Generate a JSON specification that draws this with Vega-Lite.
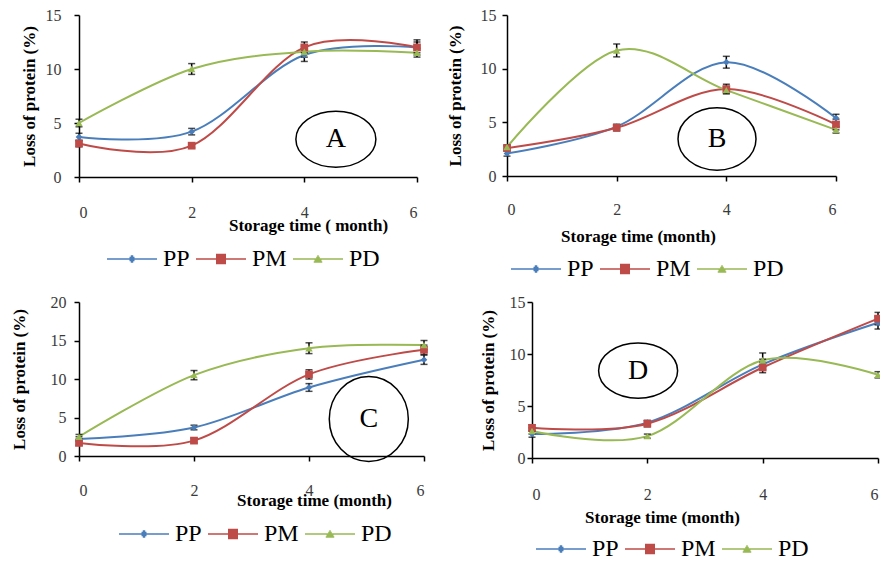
{
  "$schema": "https://vega.github.io/schema/vega-lite/v6.json",
  "padding": {"left": 10, "top": 7, "right": 0, "bottom": 0},
  "background": "white",
  "config": {
    "view": {"stroke": null},
    "axis": {
      "grid": false,
      "domainColor": "black",
      "tickColor": "black",
      "domainWidth": 1.5,
      "tickWidth": 1.5,
      "tickSize": 5,
      "labelFont": "Liberation Serif",
      "labelFontSize": 16,
      "labelColor": "#3a3a3a",
      "titleFont": "Liberation Serif",
      "titleFontSize": 17,
      "titleFontWeight": "bold",
      "titleColor": "black"
    },
    "legend": {
      "orient": "none",
      "direction": "horizontal",
      "title": null,
      "padding": 0,
      "labelFont": "Liberation Serif",
      "labelFontSize": 24,
      "labelColor": "black",
      "labelOffset": 5,
      "columnPadding": 3,
      "symbolSize": 2500,
      "symbolStrokeWidth": 1.5
    }
  },
  "datasets": {
    "pts": [
      {"panel": "A", "series": "PP", "month": 0, "value": 3.7, "err": 0.35},
      {"panel": "A", "series": "PP", "month": 2, "value": 4.2, "err": 0.3},
      {"panel": "A", "series": "PP", "month": 4, "value": 11.3, "err": 0.6},
      {"panel": "A", "series": "PP", "month": 6, "value": 12.0, "err": 0.5},
      {"panel": "A", "series": "PM", "month": 0, "value": 3.1, "err": 0.3},
      {"panel": "A", "series": "PM", "month": 2, "value": 2.9, "err": 0.2},
      {"panel": "A", "series": "PM", "month": 4, "value": 12.0, "err": 0.5},
      {"panel": "A", "series": "PM", "month": 6, "value": 12.0, "err": 0.7},
      {"panel": "A", "series": "PD", "month": 0, "value": 5.0, "err": 0.35},
      {"panel": "A", "series": "PD", "month": 2, "value": 10.0, "err": 0.5},
      {"panel": "A", "series": "PD", "month": 4, "value": 11.6, "err": 0.5},
      {"panel": "A", "series": "PD", "month": 6, "value": 11.5, "err": 0.4},
      {"panel": "B", "series": "PP", "month": 0, "value": 2.1, "err": 0.25},
      {"panel": "B", "series": "PP", "month": 2, "value": 4.6, "err": 0.2},
      {"panel": "B", "series": "PP", "month": 4, "value": 10.6, "err": 0.55},
      {"panel": "B", "series": "PP", "month": 6, "value": 5.4, "err": 0.35},
      {"panel": "B", "series": "PM", "month": 0, "value": 2.6, "err": 0.2},
      {"panel": "B", "series": "PM", "month": 2, "value": 4.5, "err": 0.3},
      {"panel": "B", "series": "PM", "month": 4, "value": 8.1, "err": 0.45},
      {"panel": "B", "series": "PM", "month": 6, "value": 4.8, "err": 0.5},
      {"panel": "B", "series": "PD", "month": 0, "value": 2.7, "err": 0.2},
      {"panel": "B", "series": "PD", "month": 2, "value": 11.7, "err": 0.6},
      {"panel": "B", "series": "PD", "month": 4, "value": 8.0, "err": 0.3},
      {"panel": "B", "series": "PD", "month": 6, "value": 4.3, "err": 0.3},
      {"panel": "C", "series": "PP", "month": 0, "value": 2.2, "err": 0.3},
      {"panel": "C", "series": "PP", "month": 2, "value": 3.7, "err": 0.3},
      {"panel": "C", "series": "PP", "month": 4, "value": 8.9, "err": 0.5},
      {"panel": "C", "series": "PP", "month": 6, "value": 12.5, "err": 0.6},
      {"panel": "C", "series": "PM", "month": 0, "value": 1.7, "err": 0.3},
      {"panel": "C", "series": "PM", "month": 2, "value": 2.0, "err": 0.3},
      {"panel": "C", "series": "PM", "month": 4, "value": 10.6, "err": 0.6},
      {"panel": "C", "series": "PM", "month": 6, "value": 13.8, "err": 0.6},
      {"panel": "C", "series": "PD", "month": 0, "value": 2.5, "err": 0.3},
      {"panel": "C", "series": "PD", "month": 2, "value": 10.5, "err": 0.6},
      {"panel": "C", "series": "PD", "month": 4, "value": 14.0, "err": 0.7},
      {"panel": "C", "series": "PD", "month": 6, "value": 14.4, "err": 0.6},
      {"panel": "D", "series": "PP", "month": 0, "value": 2.3, "err": 0.3},
      {"panel": "D", "series": "PP", "month": 2, "value": 3.4, "err": 0.2},
      {"panel": "D", "series": "PP", "month": 4, "value": 9.0, "err": 0.5},
      {"panel": "D", "series": "PP", "month": 6, "value": 13.0, "err": 0.6},
      {"panel": "D", "series": "PM", "month": 0, "value": 2.9, "err": 0.3},
      {"panel": "D", "series": "PM", "month": 2, "value": 3.3, "err": 0.3},
      {"panel": "D", "series": "PM", "month": 4, "value": 8.7, "err": 0.5},
      {"panel": "D", "series": "PM", "month": 6, "value": 13.4, "err": 0.6},
      {"panel": "D", "series": "PD", "month": 0, "value": 2.6, "err": 0.3},
      {"panel": "D", "series": "PD", "month": 2, "value": 2.1, "err": 0.2},
      {"panel": "D", "series": "PD", "month": 4, "value": 9.4, "err": 0.7},
      {"panel": "D", "series": "PD", "month": 6, "value": 8.0, "err": 0.3}
    ],
    "circ": [
      {"panel": "A", "month": 4.56, "value": 3.5, "label": "A"},
      {"panel": "B", "month": 3.83, "value": 3.45, "label": "B"},
      {"panel": "C", "month": 5.04, "value": 4.8, "label": "C"},
      {"panel": "D", "month": 1.84, "value": 8.4, "label": "D"}
    ]
  },
  "resolve": {"scale": {"color": "independent"}, "legend": {"color": "independent"}},
  "spacing": 13,
  "vconcat": [
    {
      "spacing": 24,
      "resolve": {"scale": {"color": "independent"}, "legend": {"color": "independent"}},
      "hconcat": [
        {
          "width": 338, "height": 162,
          "data": {"name": "pts"},
          "transform": [{"filter": "datum.panel === 'A'"}],
          "encoding": {
            "x": {"field": "month", "type": "quantitative", "scale": {"domain": [0, 6]}, "axis": {"values": [0, 2, 4, 6], "title": "Storage time ( month)", "labelPadding": 22, "titleX": 229, "titleY": 40}},
            "y": {"field": "value", "type": "quantitative", "scale": {"domain": [0, 15]}, "axis": {"values": [0, 5, 10, 15], "title": "Loss of protein (%)", "labelPadding": 13, "titlePadding": 7}}
          },
          "layer": [
            {"mark": {"type": "line", "interpolate": "cardinal", "strokeWidth": 2},
             "encoding": {"color": {"field": "series", "type": "nominal", "scale": {"domain": ["PP", "PM", "PD"], "range": ["#4A7EBB", "#BE4B48", "#98B954"]},
               "legend": {"legendX": 27, "legendY": 218, "symbolType": {"expr": "datum.value === 'PP' ? 'M-1,0H1M-0.1,-0.06H0.1M-0.1,0.06H0.1M-0.05,-0.12H0.05M-0.05,0.12H0.05' : datum.value === 'PM' ? 'M-1,0H1M-0.2,-0.18H0.2M-0.2,-0.12H0.2M-0.2,-0.06H0.2M-0.2,0.06H0.2M-0.2,0.12H0.2M-0.2,0.18H0.2' : 'M-1,0H1M-0.03,-0.12H0.03M-0.07,-0.06H0.07M-0.14,0.06H0.14M-0.17,0.12H0.17'"}}}}},
            {"mark": {"type": "errorbar", "color": "black", "ticks": {"size": 7, "thickness": 1.5, "color": "black"}, "rule": {"strokeWidth": 1.5, "color": "black"}},
             "encoding": {"yError": {"field": "err"}}},
            {"transform": [{"filter": "datum.series === 'PP'"}], "mark": {"type": "point", "shape": "diamond", "filled": true, "size": 45, "color": "#4A7EBB", "opacity": 1}},
            {"transform": [{"filter": "datum.series === 'PM'"}], "mark": {"type": "point", "shape": "square", "filled": true, "size": 60, "color": "#BE4B48", "opacity": 1}},
            {"transform": [{"filter": "datum.series === 'PD'"}], "mark": {"type": "point", "shape": "triangle-up", "filled": true, "size": 55, "color": "#98B954", "opacity": 1}},
            {"data": {"name": "circ"}, "transform": [{"filter": "datum.panel === 'A'"}],
             "mark": {"type": "point", "shape": "M-1,0A1,0.7,0,1,0,1,0A1,0.7,0,1,0,-1,0Z", "size": 6400, "filled": false, "stroke": "black", "strokeWidth": 1.5, "opacity": 1}},
            {"data": {"name": "circ"}, "transform": [{"filter": "datum.panel === 'A'"}],
             "mark": {"type": "text", "font": "Liberation Serif", "fontSize": 28, "baseline": "middle", "align": "center", "color": "black"},
             "encoding": {"text": {"field": "label"}}}
          ]
        },
        {
          "width": 329, "height": 161,
          "data": {"name": "pts"},
          "transform": [{"filter": "datum.panel === 'B'"}],
          "encoding": {
            "x": {"field": "month", "type": "quantitative", "scale": {"domain": [0, 6]}, "axis": {"values": [0, 2, 4, 6], "title": "Storage time (month)", "labelPadding": 20, "titleX": 131, "titleY": 52}},
            "y": {"field": "value", "type": "quantitative", "scale": {"domain": [0, 15]}, "axis": {"values": [0, 5, 10, 15], "title": "Loss of protein (%)", "labelPadding": 6, "titlePadding": 16}}
          },
          "layer": [
            {"mark": {"type": "line", "interpolate": "cardinal", "strokeWidth": 2},
             "encoding": {"color": {"field": "series", "type": "nominal", "scale": {"domain": ["PP", "PM", "PD"], "range": ["#4A7EBB", "#BE4B48", "#98B954"]},
               "legend": {"legendX": 3, "legendY": 228, "symbolType": {"expr": "datum.value === 'PP' ? 'M-1,0H1M-0.1,-0.06H0.1M-0.1,0.06H0.1M-0.05,-0.12H0.05M-0.05,0.12H0.05' : datum.value === 'PM' ? 'M-1,0H1M-0.2,-0.18H0.2M-0.2,-0.12H0.2M-0.2,-0.06H0.2M-0.2,0.06H0.2M-0.2,0.12H0.2M-0.2,0.18H0.2' : 'M-1,0H1M-0.03,-0.12H0.03M-0.07,-0.06H0.07M-0.14,0.06H0.14M-0.17,0.12H0.17'"}}}}},
            {"mark": {"type": "errorbar", "color": "black", "ticks": {"size": 7, "thickness": 1.5, "color": "black"}, "rule": {"strokeWidth": 1.5, "color": "black"}},
             "encoding": {"yError": {"field": "err"}}},
            {"transform": [{"filter": "datum.series === 'PP'"}], "mark": {"type": "point", "shape": "diamond", "filled": true, "size": 45, "color": "#4A7EBB", "opacity": 1}},
            {"transform": [{"filter": "datum.series === 'PM'"}], "mark": {"type": "point", "shape": "square", "filled": true, "size": 60, "color": "#BE4B48", "opacity": 1}},
            {"transform": [{"filter": "datum.series === 'PD'"}], "mark": {"type": "point", "shape": "triangle-up", "filled": true, "size": 55, "color": "#98B954", "opacity": 1}},
            {"data": {"name": "circ"}, "transform": [{"filter": "datum.panel === 'B'"}],
             "mark": {"type": "point", "shape": "M-1,0A1,0.8,0,1,0,1,0A1,0.8,0,1,0,-1,0Z", "size": 6084, "filled": false, "stroke": "black", "strokeWidth": 1.5, "opacity": 1}},
            {"data": {"name": "circ"}, "transform": [{"filter": "datum.panel === 'B'"}],
             "mark": {"type": "text", "font": "Liberation Serif", "fontSize": 28, "baseline": "middle", "align": "center", "color": "black"},
             "encoding": {"text": {"field": "label"}}}
          ]
        }
      ]
    },
    {
      "spacing": 50,
      "resolve": {"scale": {"color": "independent"}, "legend": {"color": "independent"}},
      "hconcat": [
        {
          "width": 345, "height": 154,
          "data": {"name": "pts"},
          "transform": [{"filter": "datum.panel === 'C'"}],
          "encoding": {
            "x": {"field": "month", "type": "quantitative", "scale": {"domain": [0, 6]}, "axis": {"values": [0, 2, 4, 6], "title": "Storage time (month)", "labelPadding": 21, "titleX": 235, "titleY": 36}},
            "y": {"field": "value", "type": "quantitative", "scale": {"domain": [0, 20]}, "axis": {"values": [0, 5, 10, 15, 20], "title": "Loss of protein (%)", "labelPadding": 8, "titlePadding": 22}}
          },
          "layer": [
            {"mark": {"type": "line", "interpolate": "cardinal", "strokeWidth": 2},
             "encoding": {"color": {"field": "series", "type": "nominal", "scale": {"domain": ["PP", "PM", "PD"], "range": ["#4A7EBB", "#BE4B48", "#98B954"]},
               "legend": {"legendX": 39, "legendY": 206, "symbolType": {"expr": "datum.value === 'PP' ? 'M-1,0H1M-0.1,-0.06H0.1M-0.1,0.06H0.1M-0.05,-0.12H0.05M-0.05,0.12H0.05' : datum.value === 'PM' ? 'M-1,0H1M-0.2,-0.18H0.2M-0.2,-0.12H0.2M-0.2,-0.06H0.2M-0.2,0.06H0.2M-0.2,0.12H0.2M-0.2,0.18H0.2' : 'M-1,0H1M-0.03,-0.12H0.03M-0.07,-0.06H0.07M-0.14,0.06H0.14M-0.17,0.12H0.17'"}}}}},
            {"mark": {"type": "errorbar", "color": "black", "ticks": {"size": 7, "thickness": 1.5, "color": "black"}, "rule": {"strokeWidth": 1.5, "color": "black"}},
             "encoding": {"yError": {"field": "err"}}},
            {"transform": [{"filter": "datum.series === 'PP'"}], "mark": {"type": "point", "shape": "diamond", "filled": true, "size": 45, "color": "#4A7EBB", "opacity": 1}},
            {"transform": [{"filter": "datum.series === 'PM'"}], "mark": {"type": "point", "shape": "square", "filled": true, "size": 60, "color": "#BE4B48", "opacity": 1}},
            {"transform": [{"filter": "datum.series === 'PD'"}], "mark": {"type": "point", "shape": "triangle-up", "filled": true, "size": 55, "color": "#98B954", "opacity": 1}},
            {"data": {"name": "circ"}, "transform": [{"filter": "datum.panel === 'C'"}],
             "mark": {"type": "point", "shape": "M-0.93,0A0.93,1,0,1,0,0.93,0A0.93,1,0,1,0,-0.93,0Z", "size": 7225, "filled": false, "stroke": "black", "strokeWidth": 1.5, "opacity": 1}},
            {"data": {"name": "circ"}, "transform": [{"filter": "datum.panel === 'C'"}],
             "mark": {"type": "text", "font": "Liberation Serif", "fontSize": 28, "baseline": "middle", "align": "center", "color": "black"},
             "encoding": {"text": {"field": "label"}}}
          ]
        },
        {
          "width": 346, "height": 156,
          "data": {"name": "pts"},
          "transform": [{"filter": "datum.panel === 'D'"}],
          "encoding": {
            "x": {"field": "month", "type": "quantitative", "scale": {"domain": [0, 6]}, "axis": {"values": [0, 2, 4, 6], "title": "Storage time (month)", "labelPadding": 23, "titleX": 130, "titleY": 51}},
            "y": {"field": "value", "type": "quantitative", "scale": {"domain": [0, 15]}, "axis": {"values": [0, 5, 10, 15], "title": "Loss of protein (%)", "labelPadding": 2, "titlePadding": 12}}
          },
          "layer": [
            {"mark": {"type": "line", "interpolate": "cardinal", "strokeWidth": 2},
             "encoding": {"color": {"field": "series", "type": "nominal", "scale": {"domain": ["PP", "PM", "PD"], "range": ["#4A7EBB", "#BE4B48", "#98B954"]},
               "legend": {"legendX": 3, "legendY": 221, "symbolType": {"expr": "datum.value === 'PP' ? 'M-1,0H1M-0.1,-0.06H0.1M-0.1,0.06H0.1M-0.05,-0.12H0.05M-0.05,0.12H0.05' : datum.value === 'PM' ? 'M-1,0H1M-0.2,-0.18H0.2M-0.2,-0.12H0.2M-0.2,-0.06H0.2M-0.2,0.06H0.2M-0.2,0.12H0.2M-0.2,0.18H0.2' : 'M-1,0H1M-0.03,-0.12H0.03M-0.07,-0.06H0.07M-0.14,0.06H0.14M-0.17,0.12H0.17'"}}}}},
            {"mark": {"type": "errorbar", "color": "black", "ticks": {"size": 7, "thickness": 1.5, "color": "black"}, "rule": {"strokeWidth": 1.5, "color": "black"}},
             "encoding": {"yError": {"field": "err"}}},
            {"transform": [{"filter": "datum.series === 'PP'"}], "mark": {"type": "point", "shape": "diamond", "filled": true, "size": 45, "color": "#4A7EBB", "opacity": 1}},
            {"transform": [{"filter": "datum.series === 'PM'"}], "mark": {"type": "point", "shape": "square", "filled": true, "size": 60, "color": "#BE4B48", "opacity": 1}},
            {"transform": [{"filter": "datum.series === 'PD'"}], "mark": {"type": "point", "shape": "triangle-up", "filled": true, "size": 55, "color": "#98B954", "opacity": 1}},
            {"data": {"name": "circ"}, "transform": [{"filter": "datum.panel === 'D'"}],
             "mark": {"type": "point", "shape": "M-1,0A1,0.7,0,1,0,1,0A1,0.7,0,1,0,-1,0Z", "size": 6241, "filled": false, "stroke": "black", "strokeWidth": 1.5, "opacity": 1}},
            {"data": {"name": "circ"}, "transform": [{"filter": "datum.panel === 'D'"}],
             "mark": {"type": "text", "font": "Liberation Serif", "fontSize": 28, "baseline": "middle", "align": "center", "color": "black"},
             "encoding": {"text": {"field": "label"}}}
          ]
        }
      ]
    }
  ]
}
